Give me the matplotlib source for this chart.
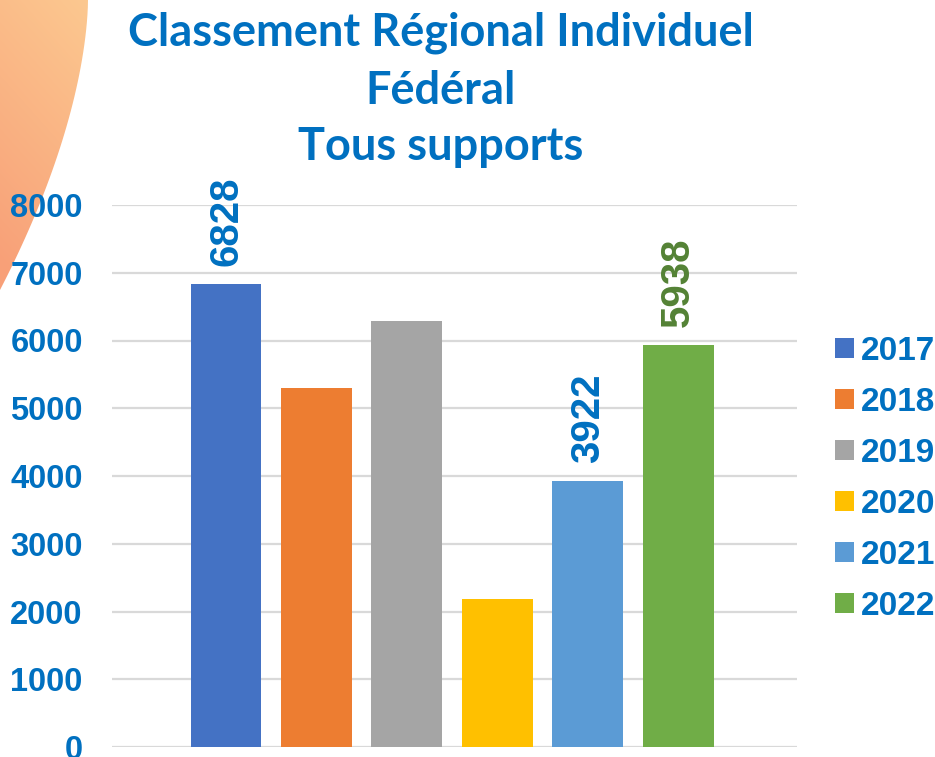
import matplotlib
matplotlib.use('Agg')
import matplotlib.pyplot as plt
from matplotlib.patches import Polygon, Patch
import numpy as np

# Données
annees = ['2017', '2018', '2019', '2020', '2021', '2022']
valeurs = [6828, 5300, 6290, 2185, 3922, 5938]
couleurs = ['#4472C4', '#ED7D31', '#A5A5A5', '#FFC000', '#5B9BD5', '#70AD47']
etiquettes = {0: '#0070C0', 4: '#0070C0', 5: '#548235'}  # barres annotées
titre = ['Classement Régional Individuel', 'Fédéral', 'Tous supports']
yticks = [0, 1000, 2000, 3000, 4000, 5000, 6000, 7000, 8000]

BLEU = '#0070C0'
W, H = 935, 757

fig = plt.figure(figsize=(W / 100, H / 100), dpi=100)
fig.patch.set_facecolor('white')

# Décor orange en haut à gauche (dégradé)
bg = fig.add_axes([0, 0, 1, 1], zorder=0)
bg.set_xlim(0, W)
bg.set_ylim(H, 0)
bg.axis('off')
yy, xx = np.mgrid[0:320, 0:100]
t = np.clip((yy / 300.0) * 0.8 + (1 - xx / 100.0) * 0.3, 0, 1)
c1 = np.array([252, 202, 145]) / 255.0
c2 = np.array([248, 160, 120]) / 255.0
img = c1[None, None, :] * (1 - t[..., None]) + c2[None, None, :] * t[..., None]
im = bg.imshow(img, extent=[0, 100, 320, 0], interpolation='bilinear')
# bord courbe du décor
yb = np.linspace(0, 290, 40)
xb = 88 * (1 - (yb / 290.0) ** 1.7)
bord = [(0, 0)] + list(zip(xb, yb)) + [(0, 290)]
poly = Polygon(bord, closed=True, facecolor='none', edgecolor='none')
bg.add_patch(poly)
im.set_clip_path(poly)

# Graphique
ax = fig.add_axes([112 / W, 1 - 747 / H, (797 - 112) / W, (747 - 205) / H], zorder=1)
ax.patch.set_alpha(0)
x = np.arange(len(annees))
barres = ax.bar(x, valeurs, width=0.785, color=couleurs, zorder=3)

for i, c in etiquettes.items():
    ax.annotate(f'{valeurs[i]}', (x[i], valeurs[i]), xytext=(0, 13),
                textcoords='offset points', rotation=90, ha='center', va='bottom',
                fontsize=29, fontweight='bold', color=c, family='Liberation Sans',
                annotation_clip=False)

ax.set_xlim(-1.261, 6.316)
ax.set_ylim(0, 8000)
ax.set_yticks(yticks)
ax.set_yticklabels([str(v) for v in yticks], fontsize=23.5, fontweight='bold',
                   color=BLEU, family='Liberation Sans')
ax.tick_params(axis='y', length=0, pad=21)
ax.set_xticks([])
for s in ax.spines.values():
    s.set_visible(False)
ax.yaxis.grid(True, color='#D9D9D9', lw=1.6, zorder=0)
ax.set_axisbelow(True)

# Titre
for ligne, yb in zip(titre, [46, 104, 160]):
    fig.text(441 / W, 1 - yb / H, ligne, ha='center', va='baseline',
             fontsize=32.5, fontweight='bold', color=BLEU, family='Lato')

# Légende
handles = [Patch(facecolor=c, edgecolor='none') for c in couleurs]
leg = fig.legend(handles, annees, loc='upper left', bbox_to_anchor=(835 / W, 1 - 336 / H),
                 frameon=False, prop={'family': 'Liberation Sans', 'weight': 'bold', 'size': 24},
                 handlelength=0.57, handleheight=0.55, handletextpad=0.2,
                 labelspacing=0.6, borderaxespad=0, borderpad=0)
for txt in leg.get_texts():
    txt.set_color(BLEU)

plt.savefig('out.png', dpi=100)
